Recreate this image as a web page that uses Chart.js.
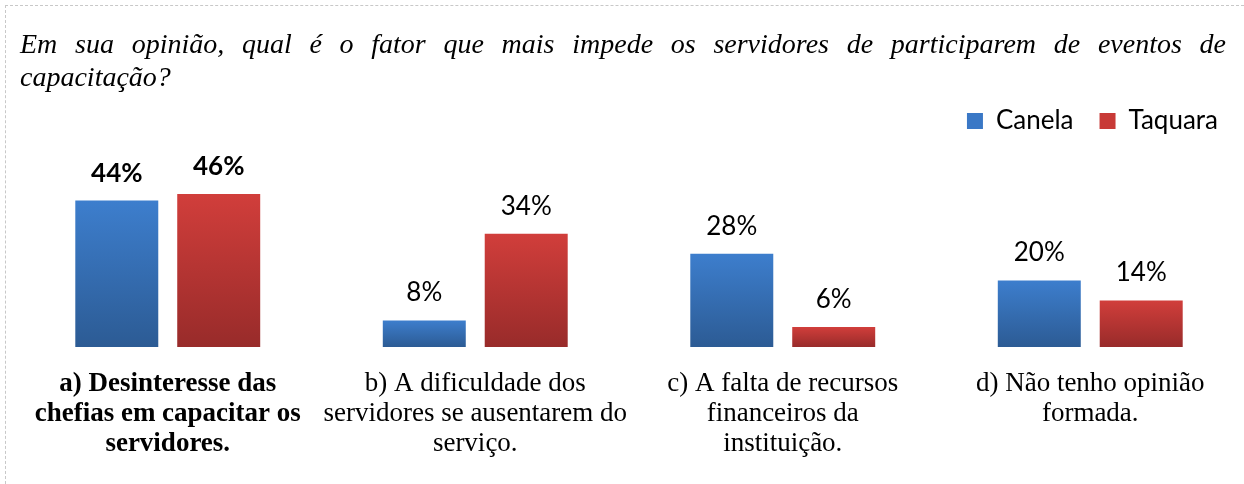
<!DOCTYPE html>
<html>
<head>
<meta charset="utf-8">
<script src="https://cdn.jsdelivr.net/npm/chart.js@4.4.1/dist/chart.umd.min.js"></script>
<style>
  html, body { margin: 0; padding: 0; background: #fff; }
  #wrap { position: relative; width: 1244px; height: 484px; }
  #frame { position: absolute; left: 5px; top: 5px; right: 0; bottom: 0;
           border-top: 1px dashed #c8c8c8; border-left: 1px dashed #c8c8c8; }
  canvas { position: absolute; left: 0; top: 0; }
</style>
</head>
<body>
<div id="wrap">
  <div id="frame"></div>
  <canvas id="chart" width="1244" height="484"></canvas>
</div>
<script>
// question shown above the chart (first line is justified)
const questionLines = [
  "Em sua opinião, qual é o fator que mais impede os servidores de participarem de eventos de",
  "capacitação?"
];
const categories = [
  ["a) Desinteresse das", "chefias em capacitar os", "servidores."],
  ["b) A dificuldade dos", "servidores se ausentarem do", "serviço."],
  ["c) A falta de recursos", "financeiros da", "instituição."],
  ["d) Não tenho opinião", "formada."]
];
const seriesNames = ["Canela", "Taquara"];
const canela = [44, 8, 28, 20];
const taquara = [46, 34, 6, 14];

const SERIF = "'Liberation Serif', 'Times New Roman', serif";
const SANS = "Lato, 'Open Sans', sans-serif";

function barGradient(top, bottom) {
  return (c) => {
    const chart = c.chart;
    if (!chart.chartArea || c.type !== "data" || !chart.scales.y) return top;
    const yTop = chart.scales.y.getPixelForValue(c.raw);
    const yBase = chart.scales.y.getPixelForValue(0);
    if (!isFinite(yTop) || yBase - yTop < 1) return top;
    const g = chart.ctx.createLinearGradient(0, yTop, 0, yBase);
    g.addColorStop(0, top);
    g.addColorStop(1, bottom);
    return g;
  };
}

// justified question title
const questionTitle = {
  id: "questionTitle",
  afterDraw(chart) {
    const ctx = chart.ctx;
    ctx.save();
    ctx.font = "italic 28px " + SERIF;
    ctx.fillStyle = "#000";
    ctx.textBaseline = "alphabetic";
    const left = 20, right = 1226;
    const words = questionLines[0].split(" ");
    const widths = words.map(w => ctx.measureText(w).width);
    const total = widths.reduce((a, b) => a + b, 0);
    const gap = (right - left - total) / (words.length - 1);
    let x = left;
    words.forEach((w, i) => {
      ctx.fillText(w, x, 53);
      x += widths[i] + gap;
    });
    ctx.fillText(questionLines[1], left, 86);
    ctx.restore();
  }
};

// value labels above each bar
const valueLabels = {
  id: "valueLabels",
  afterDatasetsDraw(chart) {
    const ctx = chart.ctx;
    ctx.save();
    ctx.fillStyle = "#000";
    ctx.textAlign = "center";
    ctx.textBaseline = "alphabetic";
    chart.data.datasets.forEach((ds, di) => {
      chart.getDatasetMeta(di).data.forEach((bar, i) => {
        ctx.font = (i === 0 ? "bold " : "") + "26px " + SANS;
        ctx.fillText(ds.data[i] + "%", bar.x, bar.y - 19);
      });
    });
    ctx.restore();
  }
};

const ctx = document.getElementById("chart").getContext("2d");
new Chart(ctx, {
  type: "bar",
  data: {
    labels: categories,
    datasets: [
      {
        label: seriesNames[0],
        data: canela,
        backgroundColor: barGradient("#3d7ecd", "#2c5b94"),
        legendColor: "#3a78c6",
        barPercentage: 0.814,
        categoryPercentage: 0.663
      },
      {
        label: seriesNames[1],
        data: taquara,
        backgroundColor: barGradient("#d13e3b", "#982b2a"),
        legendColor: "#c83a37",
        barPercentage: 0.814,
        categoryPercentage: 0.663
      }
    ]
  },
  options: {
    responsive: false,
    animation: false,
    layout: {
      padding: { top: 82, left: 14, right: 0, bottom: 3 }
    },
    scales: {
      x: {
        grid: { display: false, drawTicks: false },
        border: { display: false },
        ticks: {
          padding: 22,
          color: "#000",
          maxRotation: 0,
          autoSkip: false,
          font: (c) => ({
            family: SERIF,
            size: 27,
            weight: c.index === 0 ? "bold" : "normal",
            lineHeight: 30 / 27
          })
        }
      },
      y: {
        display: false,
        min: 0,
        max: 61
      }
    },
    plugins: {
      legend: {
        display: true,
        position: "top",
        align: "end",
        labels: {
          boxWidth: 16,
          boxHeight: 16,
          padding: 26,
          color: "#000",
          font: { family: SANS, size: 26 },
          generateLabels: (chart) => chart.data.datasets.map((ds, i) => ({
            text: ds.label,
            fillStyle: ds.legendColor,
            strokeStyle: ds.legendColor,
            lineWidth: 0,
            datasetIndex: i,
            hidden: false
          }))
        }
      },
      tooltip: { enabled: false }
    }
  },
  plugins: [questionTitle, valueLabels]
});
</script>
</body>
</html>
